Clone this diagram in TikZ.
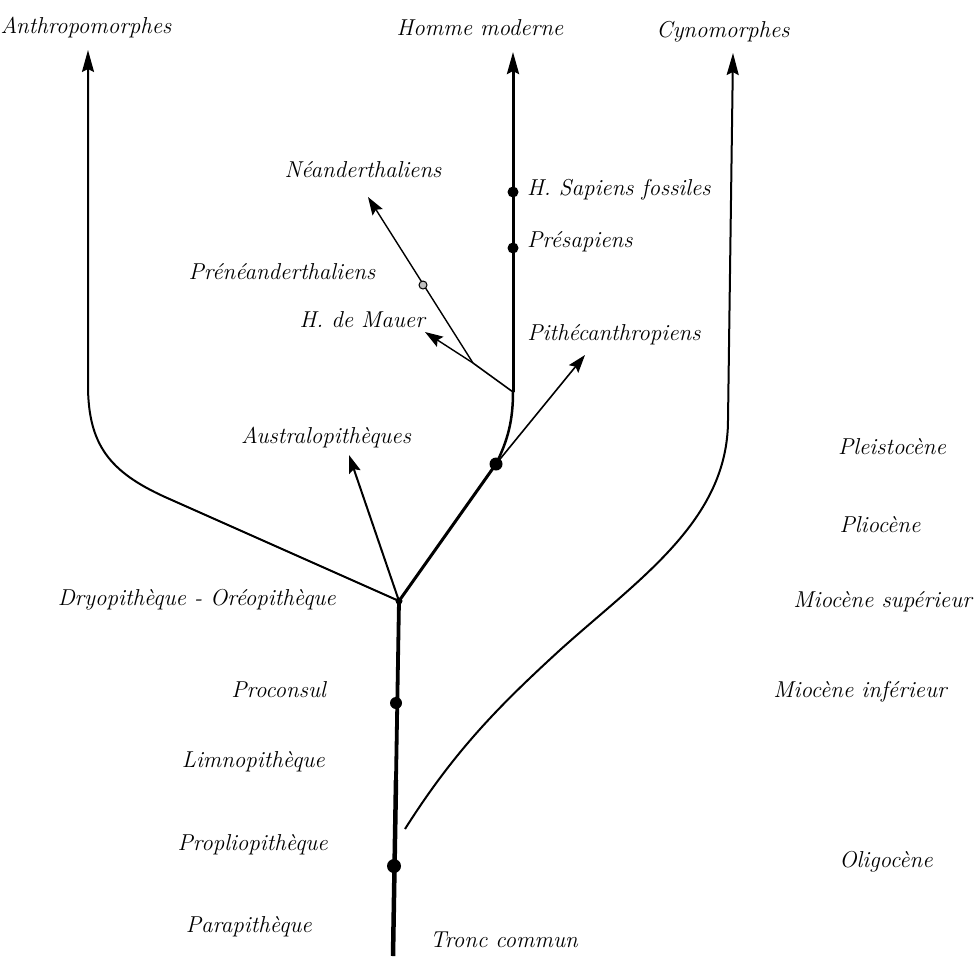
\documentclass[tikz,border=0pt]{standalone}
\usepackage{fontspec}
\setmainfont{Latin Modern Roman}
\usetikzlibrary{arrows.meta}
\begin{document}
\begin{tikzpicture}[x=1pt,y=-1pt,
  lab/.style={font=\fontsize{23}{27}\selectfont\itshape, inner sep=0pt},
  bigarrow/.style={-{Stealth[length=22pt,width=12pt,inset=3pt]}},
  smallarrow/.style={-{Stealth[length=18pt,width=12pt,inset=3pt]}},
  dotmark/.style={circle,fill=black,inner sep=0pt,minimum size=#1}]
\useasboundingbox (0,0) rectangle (980,956);

% key points
\coordinate (bot) at (393,956);
\coordinate (D) at (399,601);
\coordinate (M) at (496,464);
\coordinate (J) at (513,392);
\coordinate (K) at (473,363);
\coordinate (anthTip) at (88,50);
\coordinate (hommeTip) at (513,52);
\coordinate (cynTip) at (733,53);
\coordinate (cynStart) at (405,829);
\coordinate (neaTip) at (368,197);
\coordinate (mauTip) at (425,332);
\coordinate (pitTip) at (585,355);
\coordinate (ausTip) at (349,455);

% trunk
\draw[line width=4.5pt] (bot) -- (396,780);
\draw[line width=3.8pt] (396,780) -- (D);
% Anthropomorphes branch
\draw[line width=2pt,bigarrow] (D) -- (165,497) .. controls (110,472) and (88,445) .. (88,385) -- (anthTip);
% Australopitheques
\draw[line width=2pt,smallarrow] (D) -- (ausTip);
% main branch
\draw[line width=3pt] (D) -- (M);
\draw[line width=2.5pt] (M) .. controls (508,440) and (513,420) .. (J);
\draw[line width=3pt,bigarrow] (J) -- (hommeTip);
% Pithecanthropiens
\draw[line width=1.6pt,smallarrow] (M) -- (pitTip);
% Neanderthal branch
\draw[line width=1.6pt] (J) -- (K);
\draw[line width=1.4pt,smallarrow] (K) -- (neaTip);
\draw[line width=1.4pt,smallarrow] (K) -- (mauTip);
% Cynomorphes
\draw[line width=2pt,bigarrow] (cynStart) .. controls (455,750) and (500,705) .. (560,650)
  .. controls (640,578) and (728,520) .. (728,420) -- (cynTip);

% dots
\node[dotmark=7pt] (dD) at (D) {};
\node[dotmark=13pt] (dM) at (M) {};
\node[dotmark=11pt] (dHs) at (513,192) {};
\node[dotmark=11pt] (dPre) at (513,248) {};
\node[dotmark=12pt] (dPro) at (396,703) {};
\node[dotmark=14pt] (dPropl) at (394,866) {};
\node[circle,draw=black,fill=gray!50,line width=1pt,inner sep=0pt,minimum size=8pt] (dPren) at (423,285) {};

% labels top
\node[lab] (anth) at (86,28) {Anthropomorphes};
\node[lab] (homme) at (480,28) {Homme moderne};
\node[lab] (cyn) at (723,32) {Cynomorphes};
% hominid labels
\node[lab] (nea) at (363,170) {Néanderthaliens};
\node[lab,anchor=west] (hsf) at (527,190) {H. Sapiens fossiles};
\node[lab,anchor=west] (presap) at (527,242) {Présapiens};
\node[lab] (prenea) at (282,272) {Prénéanderthaliens};
\node[lab,anchor=east] (mauer) at (425,320) {H. de Mauer};
\node[lab] (pith) at (614,335) {Pithécanthropiens};
\node[lab] (austr) at (326,438) {Australopithèques};
% left column
\node[lab,anchor=east] (dryo) at (336,600) {Dryopithèque - Oréopithèque};
\node[lab,anchor=east] (procon) at (326,690) {Proconsul};
\node[lab,anchor=east] (limno) at (325,762) {Limnopithèque};
\node[lab,anchor=east] (propl) at (328,845) {Propliopithèque};
\node[lab,anchor=east] (para) at (312,927) {Parapithèque};
\node[lab,anchor=west] (tronc) at (430,940) {Tronc commun};
% right column
\node[lab] (pleis) at (892,447) {Pleistocène};
\node[lab] (plio) at (880,525) {Pliocène};
\node[lab,anchor=east] (mios) at (972,602) {Miocène supérieur};
\node[lab] (mioi) at (860,692) {Miocène inférieur};
\node[lab] (oligo) at (886,862) {Oligocène};
\end{tikzpicture}
\end{document}
